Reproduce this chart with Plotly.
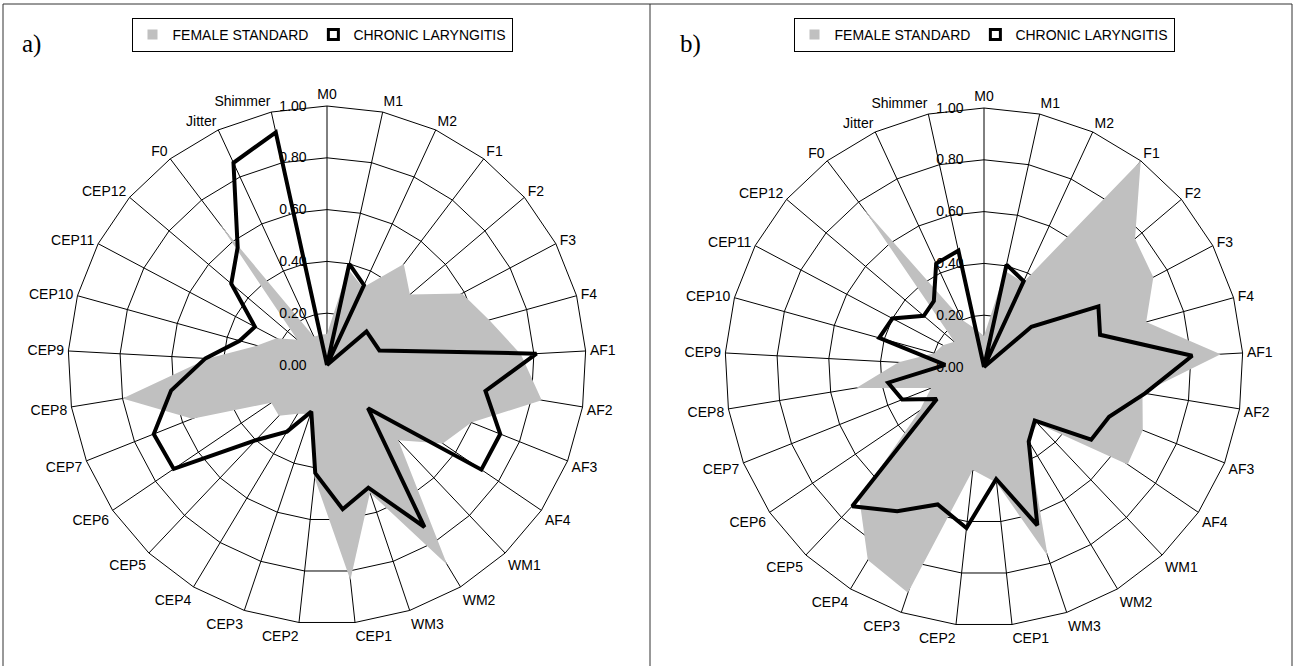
import plotly.graph_objects as go

categories = ["M0", "M1", "M2", "F1", "F2", "F3", "F4", "AF1", "AF2", "AF3", "AF4",
              "WM1", "WM2", "WM3", "CEP1", "CEP2", "CEP3", "CEP4", "CEP5", "CEP6",
              "CEP7", "CEP8", "CEP9", "CEP10", "CEP11", "CEP12", "F0", "Jitter", "Shimmer"]

# panel a)
a_female = [0.12, 0.38, 0.33, 0.49, 0.42, 0.59, 0.65, 0.75, 0.84, 0.60, 0.54,
            0.40, 0.90, 0.52, 0.835, 0.44, 0.20, 0.22, 0.27, 0.26,
            0.56, 0.80, 0.46, 0.28, 0.22, 0.15, 0.69, 0.12, 0.12]
a_chronic = [0.00, 0.40, 0.34, 0.00, 0.20, 0.20, 0.21, 0.81, 0.62, 0.72, 0.72,
             0.23, 0.73, 0.50, 0.56, 0.42, 0.19, 0.30, 0.40, 0.715,
             0.72, 0.61, 0.47, 0.35, 0.315, 0.485, 0.57, 0.86, 0.92]

# panel b)
b_female = [0.12, 0.38, 0.36, 1.00, 0.765, 0.74, 0.65, 0.915, 0.62, 0.66, 0.67,
            0.30, 0.33, 0.77, 0.45, 0.40, 0.92, 0.87, 0.70, 0.30,
            0.22, 0.50, 0.33, 0.20, 0.18, 0.15, 0.77, 0.20, 0.15]
b_chronic = [0.00, 0.405, 0.365, 0.00, 0.24, 0.50, 0.465, 0.805, 0.63, 0.52, 0.50,
             0.285, 0.335, 0.645, 0.435, 0.625, 0.56, 0.65, 0.74, 0.22,
             0.34, 0.375, 0.15, 0.42, 0.40, 0.305, 0.32, 0.44, 0.46]

radial_ticks = [0.0, 0.2, 0.4, 0.6, 0.8, 1.0]
series_names = ["FEMALE STANDARD", "CHRONIC LARYNGITIS"]
panel_labels = ["a)", "b)"]

W, H = 1295, 666
FONT = "Liberation Sans, Arial, sans-serif"
GRAY = "#c0c0c0"
R = 259

fig = go.Figure()

def close(v):
    return v + [v[0]]

theta = close(categories)
panels = [(a_female, a_chronic, "polar", "legend"), (b_female, b_chronic, "polar2", "legend2")]
for fem, chr_, sp, lg in panels:
    fig.add_trace(go.Scatterpolar(r=close(fem), theta=theta, subplot=sp, mode="lines",
                                  fill="toself", fillcolor=GRAY, line=dict(color=GRAY, width=0),
                                  showlegend=False, hoverinfo="skip"))
    fig.add_trace(go.Scatterpolar(r=close(chr_), theta=theta, subplot=sp, mode="lines",
                                  line=dict(color="black", width=4),
                                  showlegend=False, hoverinfo="skip"))
    # legend entries
    fig.add_trace(go.Scatterpolar(r=[None], theta=[categories[0]], subplot=sp, mode="markers",
                                  name=series_names[0], legend=lg,
                                  marker=dict(symbol="square", size=10, color=GRAY)))
    fig.add_trace(go.Scatterpolar(r=[None], theta=[categories[0]], subplot=sp, mode="markers",
                                  name=series_names[1], legend=lg,
                                  marker=dict(symbol="square", size=10, color="white",
                                              line=dict(color="black", width=3))))

def polar_cfg(cx, cy):
    return dict(
        domain=dict(x=[(cx - R) / W, (cx + R) / W], y=[1 - (cy + R) / H, 1 - (cy - R) / H]),
        bgcolor="white",
        gridshape="linear",
        angularaxis=dict(type="category", categoryarray=categories, direction="clockwise",
                         rotation=90, showgrid=True, gridcolor="black", gridwidth=1,
                         showline=True, linecolor="black", linewidth=1,
                         ticks="outside", ticklen=1, tickcolor="rgba(0,0,0,0)",
                         tickfont=dict(family=FONT, size=14, color="black"),
                         layer="above traces"),
        radialaxis=dict(range=[0, 1], tickvals=radial_ticks, tickformat=".2f", angle=90,
                        tickangle=90, side="counterclockwise", showline=False, showgrid=True,
                        gridcolor="black", gridwidth=1,
                        ticks="outside", ticklen=15, tickcolor="rgba(0,0,0,0)",
                        tickfont=dict(family=FONT, size=14, color="black"),
                        layer="above traces"),
    )

legend_common = dict(orientation="h", bgcolor="white", bordercolor="black", borderwidth=1,
                     font=dict(family=FONT, size=14, color="black"), xanchor="center",
                     yanchor="top", itemwidth=30, tracegroupgap=0)

fig.update_layout(
    width=W, height=H, margin=dict(l=0, r=0, t=0, b=0),
    paper_bgcolor="white", plot_bgcolor="white",
    polar=polar_cfg(327, 365),
    polar2=polar_cfg(984, 367),
    legend=dict(x=322 / W, y=1 - 18 / H, **legend_common),
    legend2=dict(x=984 / W, y=1 - 18 / H, **legend_common),
    shapes=[
        dict(type="line", xref="paper", yref="paper", x0=3 / W, x1=3 / W, y0=0, y1=1 - 4 / H,
             line=dict(color="#333", width=1)),
        dict(type="line", xref="paper", yref="paper", x0=3 / W, x1=1292 / W, y0=1 - 4 / H, y1=1 - 4 / H,
             line=dict(color="#333", width=1)),
        dict(type="line", xref="paper", yref="paper", x0=650 / W, x1=650 / W, y0=0, y1=1 - 4 / H,
             line=dict(color="#333", width=1)),
        dict(type="line", xref="paper", yref="paper", x0=1292 / W, x1=1292 / W, y0=0, y1=1 - 4 / H,
             line=dict(color="#333", width=1)),
    ],
    annotations=[
        dict(text=panel_labels[0], x=20 / W, y=1 - 44 / H, xref="paper", yref="paper",
             xanchor="left", yanchor="middle", showarrow=False,
             font=dict(family="Liberation Serif, Times New Roman, serif", size=25, color="black")),
        dict(text=panel_labels[1], x=678 / W, y=1 - 44 / H, xref="paper", yref="paper",
             xanchor="left", yanchor="middle", showarrow=False,
             font=dict(family="Liberation Serif, Times New Roman, serif", size=25, color="black")),
    ],
)

fig.write_html("out.html", config={"displayModeBar": False},
               post_script="document.body.style.margin='0';document.body.style.overflow='hidden';")
